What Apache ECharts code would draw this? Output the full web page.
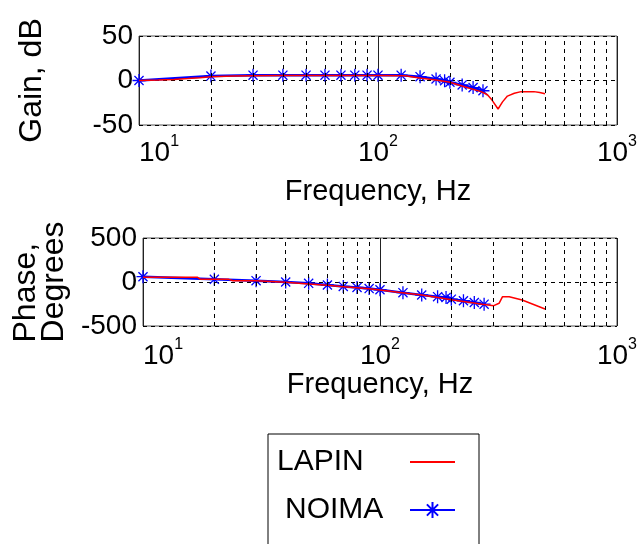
<!DOCTYPE html>
<html><head><meta charset="utf-8">
<script src="https://cdn.jsdelivr.net/npm/echarts@6/dist/echarts.min.js"></script>
<style>html,body{margin:0;padding:0;background:#fff}#c{width:640px;height:544px}</style>
</head><body><div id="c"></div>
<script>
const noimaFreq  = [10, 20, 30, 40, 50, 60, 70, 80, 90, 100, 125, 150, 175, 190, 200, 225, 250, 275];
const noimaGain  = [0, 5, 6, 6, 6, 6, 6, 6, 6, 6, 6, 4.3, 1.7, -0.2, -2, -5, -8, -11.5];
const noimaPhase = [60, 30, 15, 0, -15, -34, -50, -62, -75, -88, -121, -148, -167, -175, -195, -213, -233, -252];

const lapinGainFreq = [10, 12, 14, 16, 18, 20, 25, 30, 40, 60, 100, 130, 140, 152, 175, 200, 230, 270, 287, 300, 318, 332, 348, 372, 397, 449, 475, 500];
const lapinGain     = [0, 0.5, 1.2, 2.2, 3.2, 4.2, 5, 5.4, 5.5, 5.5, 5.5, 5.3, 4, 2.4, 0.5, -2, -7, -12.5, -16, -22, -32, -24, -17.5, -14.4, -12.5, -12.5, -13.5, -15];

const lapinPhaseFreq = [10, 17, 17.5, 23, 24, 30, 40, 50, 60, 70, 80, 90, 100, 124, 150, 173, 203, 245, 270, 302, 318, 329, 351, 398, 497];
const lapinPhase     = [53, 53, 30, 30, 15, 15, -4, -23, -38, -53, -66, -78, -91, -121, -148, -174, -205, -235, -254, -269, -242, -167, -167, -205, -307];

const minorGridFreqs = [20, 30, 40, 50, 60, 70, 80, 90, 200, 300, 400, 500, 600, 700, 800, 900];
const gainRange  = [-50, 50, 50];
const phaseRange = [-500, 500, 500];

const FONT = 'Liberation Sans, Arial, sans-serif';
const zip = (a, b) => a.map((v, i) => [v, b[i]]);
const star = 'path://M5,0L5,10M0,5L10,5M1.5,1.5L8.5,8.5M1.5,8.5L8.5,1.5';

function xAxis(gridIndex, margin, nameGap) {
  return {
    type: 'log', logBase: 10, min: 10, max: 1000, gridIndex,
    name: 'Frequency, Hz', nameLocation: 'middle', nameGap,
    nameTextStyle: { fontFamily: FONT, fontSize: 29, color: '#000' },
    axisLine: { show: false }, axisTick: { show: false },
    splitLine: { show: true, lineStyle: { color: '#222', width: 1 } },
    axisLabel: {
      margin, alignMinLabel: 'left', fontFamily: FONT, color: '#000',
      formatter: v => '{b|10}{s|' + Math.round(Math.log10(v)) + '}',
      rich: {
        b: { fontSize: 28, fontFamily: FONT, color: '#000', lineHeight: 38 },
        s: { fontSize: 16, fontFamily: FONT, color: '#000', lineHeight: 16, verticalAlign: 'top' }
      }
    }
  };
}
function yAxis(gridIndex, r, name, gap) {
  return {
    type: 'value', gridIndex, min: r[0], max: r[1], interval: r[2],
    name, nameLocation: 'middle', nameRotate: 90, nameGap: gap,
    nameTextStyle: {
      fontFamily: FONT, fontSize: 32, color: '#000', lineHeight: 28,
      rich: { l: { fontFamily: FONT, fontSize: 32, color: '#000', lineHeight: 28, align: 'left' } }
    },
    axisLine: { show: false }, axisTick: { show: false },
    splitLine: { show: true, lineStyle: { color: '#000', type: [4, 4], width: 1 } },
    axisLabel: { margin: 6, fontFamily: FONT, fontSize: 28, color: '#000' }
  };
}
const gridMark = {
  silent: true, symbol: 'none', animation: false,
  label: { show: false },
  lineStyle: { color: '#000', type: [4, 4], width: 1 },
  data: minorGridFreqs.map(f => ({ xAxis: f }))
};

const chart = echarts.init(document.getElementById('c'));
chart.setOption({
  animation: false,
  backgroundColor: '#fff',
  grid: [
    { left: 139, top: 36, width: 481, height: 89, show: true, borderColor: '#555', borderWidth: 1, backgroundColor: 'transparent' },
    { left: 143, top: 238, width: 480, height: 88, show: true, borderColor: '#555', borderWidth: 1, backgroundColor: 'transparent' }
  ],
  xAxis: [xAxis(0, 9, 52), xAxis(1, 11, 40)],
  yAxis: [
    yAxis(0, gainRange, 'Gain, dB', 93),
    yAxis(1, phaseRange, '{l|Phase,}\n{l|Degrees}', 59)
  ],
  legend: {
    orient: 'vertical', left: 268, top: 434, height: 160, align: 'right',
    itemWidth: 45, itemHeight: 20, itemGap: 18,
    padding: [13, 23, 40, 9],
    borderColor: '#000', borderWidth: 1, backgroundColor: '#fff',
    data: [
      { name: 'LAPIN', icon: 'path://M0,9H45V11H0Z' },
      { name: 'NOIMA' }
    ],
    formatter: n => n === 'NOIMA' ? '{b|' + n + '}' : '{a|' + n + '}',
    textStyle: {
      fontFamily: FONT, fontSize: 30, color: '#000',
      rich: {
        a: { fontFamily: FONT, fontSize: 30, color: '#000', width: 128, align: 'left', lineHeight: 34 },
        b: { fontFamily: FONT, fontSize: 30, color: '#000', width: 120, align: 'left', lineHeight: 34, padding: [0, 0, 0, 8] }
      }
    }
  },
  series: [
    { name: 'NOIMA', type: 'line', xAxisIndex: 0, yAxisIndex: 0, data: zip(noimaFreq, noimaGain),
      symbol: star, symbolSize: 13, z: 2,
      itemStyle: { color: '#0000ff', borderColor: '#0000ff', borderWidth: 1.3 },
      lineStyle: { color: '#0000ff', width: 2.5 } },
    { name: 'LAPIN', type: 'line', xAxisIndex: 0, yAxisIndex: 0, data: zip(lapinGainFreq, lapinGain),
      symbol: 'none', z: 3, itemStyle: { color: '#ff0000' },
      lineStyle: { color: '#ff0000', width: 1.5 }, markLine: gridMark },
    { name: 'NOIMA', type: 'line', xAxisIndex: 1, yAxisIndex: 1, data: zip(noimaFreq, noimaPhase),
      symbol: star, symbolSize: 13, z: 2,
      itemStyle: { color: '#0000ff', borderColor: '#0000ff', borderWidth: 1.3 },
      lineStyle: { color: '#0000ff', width: 2.5 } },
    { name: 'LAPIN', type: 'line', xAxisIndex: 1, yAxisIndex: 1, data: zip(lapinPhaseFreq, lapinPhase),
      symbol: 'none', z: 3, itemStyle: { color: '#ff0000' },
      lineStyle: { color: '#ff0000', width: 1.5 }, markLine: gridMark }
  ]
});
</script>
</body></html>
